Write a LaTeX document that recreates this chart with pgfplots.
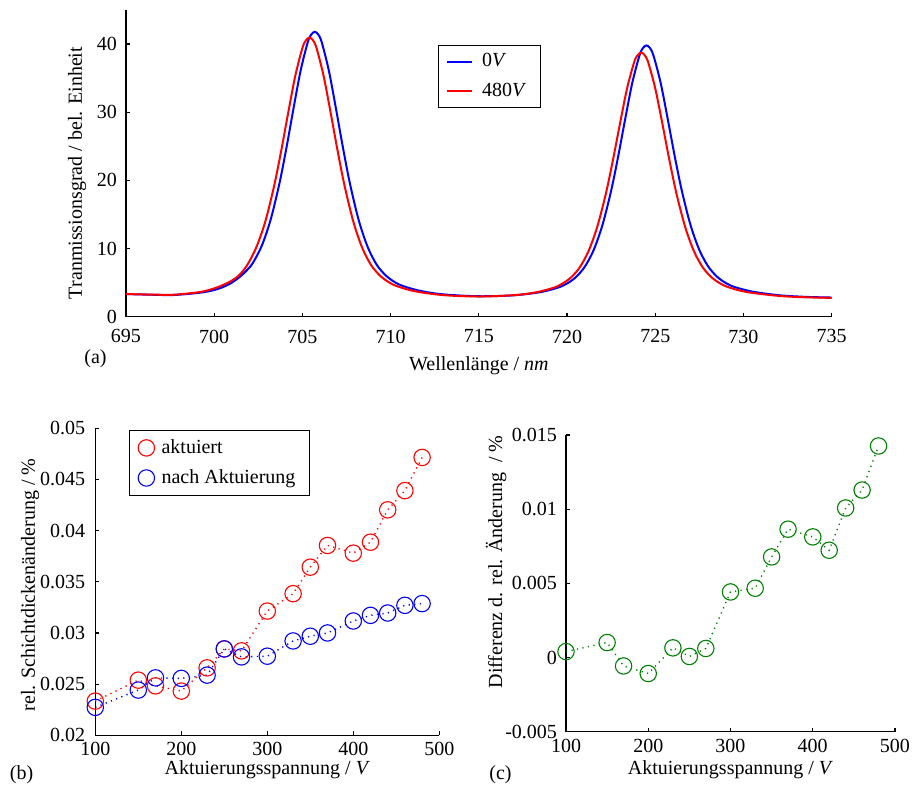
\documentclass[border=0pt]{standalone}
\usepackage{pgfplots}
\pgfplotsset{compat=1.18}
\usepackage{fontspec}
\setmainfont{Liberation Serif}
\definecolor{mred}{rgb}{1,0,0}
\definecolor{mblue}{rgb}{0,0,1}
\definecolor{mgreen}{rgb}{0,0.5,0}
\pgfplotsset{
  mstyle/.style={
    scale only axis, clip=false,
    axis lines*=left, tick align=inside,
    major tick length=2pt,
    scaled ticks=false,
    axis line style={line width=0.6pt, black},
    every tick/.style={line width=0.6pt, black},
    /pgf/number format/assume math mode=true,
    tick label style={font=\normalsize},
  },
  dotser/.style={line width=0.7pt, dash pattern=on 0.6pt off 2.2pt,
    mark=o, mark size=4.1pt, mark options={solid, line width=0.55pt}},
}
\begin{document}
\begin{tikzpicture}
\useasboundingbox (0pt,0pt) rectangle (456pt,395.5pt);
% ---------------- (a)
\begin{axis}[mstyle,
  at={(63pt,237.15pt)}, anchor=south west,
  width=352.85pt, height=153.35pt,
  xmin=695, xmax=735, ymin=0, ymax=45,
  xtick={695,700,...,735}, ytick={0,10,20,30,40},
  xticklabel style={yshift=-3pt},
  yticklabel style={xshift=-1pt},
  legend style={at={(0.4417,0.886)}, anchor=north west, draw=black, line width=0.5pt,
    font=\normalsize, inner xsep=4pt, inner ysep=2pt, row sep=2.6pt, column sep=1.5pt,
    nodes={inner xsep=3pt, inner ysep=2pt}},
  legend cell align=left,
  legend image code/.code={\draw[#1] (0pt,0pt) -- (12.5pt,0pt);},
]
\addplot[mblue, line width=1pt, smooth] coordinates {
(695,3.32) (696.5,3.22) (697.7,3.18) (699.2,3.52) (700,3.91) (700.5,4.35) (701,5.0)
(701.5,5.95) (701.9,6.95) (702.2,7.92) (702.7,10.43) (703.2,14.25) (703.7,19.59)
(704.1,24.86) (704.5,30.63) (704.9,36.13) (705.3,40.25) (705.5,41.4) (705.7,41.8)
(705.9,41.4) (706.1,40.22) (706.5,36.08) (706.9,30.55) (707.3,24.76) (707.7,19.45)
(708.2,14.07) (708.7,10.22) (709.2,7.66) (709.7,6.11) (710.2,5.12) (710.7,4.50)
(711.7,3.77) (713,3.27) (715,3.0) (717,3.14) (718.5,3.61) (719.5,4.28) (720,4.87)
(720.5,5.80) (721,7.31) (721.5,9.73) (722.0,13.39) (722.5,18.5) (722.9,23.55)
(723.3,29.07) (723.7,34.35) (724.1,38.29) (724.3,39.42) (724.5,39.8) (724.7,39.42)
(724.9,38.30) (725.3,34.37) (725.7,29.1) (726.1,23.58) (726.5,18.54) (727.0,13.43)
(727.5,9.78) (728.0,7.37) (728.5,5.87) (729,4.94) (729.5,4.35) (730.5,3.68) (732,3.15)
(733.5,2.91) (735,2.81)};
\addlegendentry{0\textit{V}}
\addplot[mred, line width=1pt, smooth] coordinates {
(695,3.32) (696.5,3.24) (697.7,3.22) (699.2,3.62) (700,4.15) (700.5,4.65) (701,5.3)
(701.46,6.2) (701.9,7.7) (702.4,10.26) (702.9,14.0) (703.4,19.23) (703.8,24.37)
(704.2,30.01) (704.6,35.4) (705.0,39.43) (705.2,40.56) (705.4,40.95) (705.6,40.56)
(705.8,39.41) (706.2,35.34) (706.6,29.93) (707.0,24.26) (707.4,19.07) (707.9,13.81)
(708.4,10.04) (708.9,7.54) (709.4,6.02) (709.9,5.05) (710.4,4.44) (711.4,3.72)
(713,3.16) (715,2.96) (717,3.16) (718.2,3.55) (719.2,4.21) (719.7,4.79) (720.2,5.70)
(720.7,7.16) (721.2,9.52) (721.7,13.08) (722.2,18.05) (722.6,22.97) (723.0,28.33)
(723.4,33.47) (723.8,37.31) (724.0,38.38) (724.2,38.75) (724.4,38.38) (724.6,37.31)
(725.0,33.48) (725.4,28.36) (725.8,22.99) (726.2,18.08) (726.7,13.12) (727.2,9.56)
(727.7,7.21) (728.2,5.75) (728.7,4.85) (729.2,4.28) (730.2,3.61) (732,3.05)
(733.5,2.85) (735,2.76)};
\addlegendentry{480\textit{V}}
\end{axis}
% ---------------- (b)
\begin{axis}[mstyle,
  at={(47.65pt,27.85pt)}, anchor=south west,
  width=172pt, height=153.5pt,
  xmin=100, xmax=500, ymin=0.02, ymax=0.05,
  xtick={100,200,300,400,500},
  ytick={0.02,0.025,0.03,0.035,0.04,0.045,0.05},
  yticklabels={0.02,0.025,0.03,0.035,0.04,0.045,0.05},
  yticklabel style={xshift=-1.5pt},
  legend style={at={(0.0988,0.9945)}, anchor=north west, draw=black, line width=0.5pt,
    font=\normalsize, inner xsep=4.2pt, inner ysep=2.5pt, row sep=2.6pt, column sep=0.5pt,
    nodes={inner xsep=3pt, inner ysep=2pt}},
  legend cell align=left,
]
\addplot[mred, dotser, forget plot] coordinates {
(100,0.02334) (150,0.02539) (170,0.02483) (200,0.02432) (230,0.02659) (250,0.02844)
(270,0.02825) (300,0.03214) (330,0.03384) (350,0.03643) (370,0.03855) (400,0.0378)
(420,0.03887) (440,0.04203) (460,0.04391) (480,0.04715)};
\addplot[mblue, dotser, forget plot] coordinates {
(100,0.02273) (150,0.02442) (170,0.02561) (200,0.02556) (230,0.02588) (250,0.02844)
(270,0.02766) (300,0.02773) (330,0.02922) (350,0.02968) (370,0.0300) (400,0.03117)
(420,0.03172) (440,0.03195) (460,0.0327) (480,0.03287)};
\addlegendimage{only marks, mark=o, mark size=4.1pt, mred, mark options={line width=0.55pt}}
\addlegendentry{aktuiert}
\addlegendimage{only marks, mark=o, mark size=4.1pt, mblue, mark options={line width=0.55pt}}
\addlegendentry{nach Aktuierung}
\end{axis}
% ---------------- (c)
\begin{axis}[mstyle,
  at={(283pt,29.65pt)}, anchor=south west,
  width=164.5pt, height=148.35pt,
  xmin=100, xmax=500, ymin=-0.005, ymax=0.015,
  xtick={100,200,300,400,500},
  ytick={-0.005,0,0.005,0.01,0.015},
  yticklabels={-0.005,0,0.005,0.01,0.015},
  yticklabel style={xshift=-1pt},
]
\addplot[mgreen, dotser] coordinates {
(100,0.0004) (150,0.00101) (170,-0.00057) (200,-0.00108) (230,0.00065) (250,0.00007)
(270,0.00061) (300,0.00442) (330,0.00467) (350,0.00678) (370,0.00865) (400,0.00813)
(420,0.00723) (440,0.01008) (460,0.01129) (480,0.01426)};
\end{axis}
% ---------------- labels
\node[rotate=90, anchor=base] at (41pt,309pt) {Tranmissionsgrad / bel. Einheit};
\node[anchor=base] at (239.45pt,210pt) {Wellenlänge / \textit{nm}};
\node[anchor=base] at (47.75pt,213.5pt) {(a)};
\node[rotate=90, anchor=base] at (17.5pt,103pt) {rel. Schichtdickenänderung / \%};
\node[anchor=base] at (133.65pt,8.35pt) {Aktuierungsspannung / \textit{V}};
\node[anchor=base] at (10.75pt,5.5pt) {(b)};
\node[rotate=90, anchor=base] at (251pt,114.5pt) {Differenz d. rel. Änderung~ / \%};
\node[anchor=base] at (365.25pt,8.35pt) {Aktuierungsspannung / \textit{V}};
\node[anchor=base] at (250.25pt,5.5pt) {(c)};
\end{tikzpicture}
\end{document}
